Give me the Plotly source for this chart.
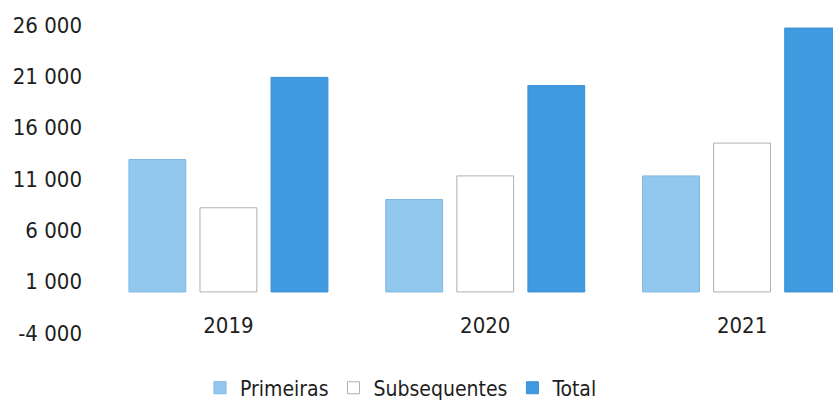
import plotly.graph_objects as go

years = ["2019", "2020", "2021"]
primeiras = [12900, 9000, 11300]
subsequentes = [8200, 11300, 14500]
total = [20900, 20100, 25700]
y_tick_vals = [-4000, 1000, 6000, 11000, 16000, 21000, 26000]
y_tick_text = ["-4 000", "1 000", "6 000", "11 000", "16 000", "21 000", "26 000"]

FONT = "DejaVu Sans Condensed, Open Sans, sans-serif"

fig = go.Figure()
fig.add_trace(go.Bar(name="Primeiras", x=years, y=primeiras,
                     marker=dict(color="#93c8ee", line=dict(color="#7fb6e0", width=1))))
fig.add_trace(go.Bar(name="Subsequentes", x=years, y=subsequentes,
                     marker=dict(color="#ffffff", line=dict(color="#b0b0b0", width=1))))
fig.add_trace(go.Bar(name="Total", x=years, y=total,
                     marker=dict(color="#3f9ae0", line=dict(color="#3a8fd3", width=1))))

fig.update_layout(
    width=833, height=403,
    margin=dict(l=100, r=0, t=25, b=70),
    paper_bgcolor="white", plot_bgcolor="white",
    barmode="group", bargap=0.17, bargroupgap=0.2,
    font=dict(family=FONT, color="#1e1e1e", size=20),
    showlegend=True,
    legend=dict(orientation="h", xref="container", yref="container",
                x=0.482, y=0.037, xanchor="center", yanchor="middle",
                font=dict(size=21), itemwidth=30, traceorder="normal"),
    xaxis=dict(range=[-0.5, 2.354], showgrid=False, showline=False, zeroline=False,
               anchor="free", position=0.075, ticks="", tickfont=dict(size=22)),
    yaxis=dict(range=[-4000, 26000], tickvals=y_tick_vals, ticktext=y_tick_text,
               showgrid=False, showline=False, zeroline=False, ticks="",
               ticklabelstandoff=17, tickfont=dict(size=22)),
)

fig.write_html("out.html")
